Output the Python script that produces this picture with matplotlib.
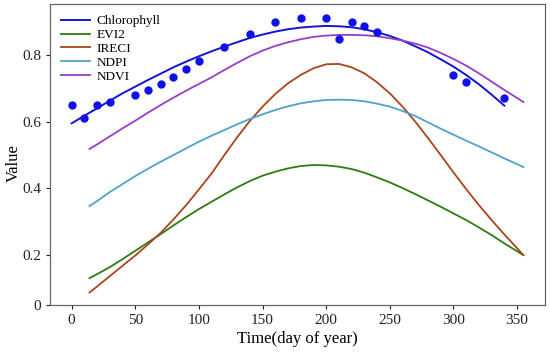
import matplotlib
matplotlib.use("Agg")
import matplotlib.pyplot as plt

# Observed chlorophyll points
chl_days = [0, 10, 20, 30, 50, 60, 70, 80, 90, 100, 120, 140, 160, 180, 200, 210, 220, 230, 240, 300, 310, 340]
chl_obs = [0.65, 0.611, 0.65, 0.659, 0.68, 0.695, 0.713, 0.734, 0.758, 0.782, 0.824, 0.863, 0.899, 0.911, 0.911,
           0.848, 0.899, 0.887, 0.869, 0.74, 0.719, 0.671]

# Chlorophyll fitted curve
chl_fit_days = [0, 10, 20, 30, 40, 50, 60, 70, 80, 90, 100, 110, 120, 130, 140, 150, 160, 170, 180, 190, 200,
                210, 220, 230, 240, 250, 260, 270, 280, 290, 300, 310, 320, 330, 340]
chl_fit = [0.595, 0.618, 0.64, 0.663, 0.685, 0.705, 0.725, 0.744, 0.763, 0.78, 0.796, 0.811, 0.825, 0.838,
           0.851, 0.861, 0.87, 0.877, 0.882, 0.885, 0.887, 0.886, 0.883, 0.877, 0.868, 0.857, 0.843, 0.826,
           0.808, 0.787, 0.765, 0.74, 0.712, 0.681, 0.648]

# Vegetation index curves
vi_days = [14, 20, 30, 40, 50, 60, 70, 80, 90, 100, 110, 120, 130, 140, 150, 160, 170, 180, 190, 200, 210,
           220, 230, 240, 250, 260, 270, 280, 290, 300, 310, 320, 330, 340, 355]
evi2 = [0.131, 0.143, 0.164, 0.188, 0.213, 0.238, 0.263, 0.289, 0.314, 0.338, 0.36, 0.382, 0.403, 0.422, 0.438,
        0.45, 0.46, 0.467, 0.47, 0.469, 0.465, 0.458, 0.447, 0.433, 0.418, 0.401, 0.383, 0.364, 0.345, 0.325,
        0.305, 0.283, 0.26, 0.235, 0.2]
ireci = [0.088, 0.106, 0.137, 0.168, 0.199, 0.232, 0.267, 0.307, 0.35, 0.397, 0.445, 0.5, 0.553, 0.602, 0.645,
         0.683, 0.715, 0.74, 0.76, 0.772, 0.773, 0.763, 0.745, 0.718, 0.685, 0.645, 0.6, 0.551, 0.5, 0.448,
         0.398, 0.35, 0.305, 0.262, 0.2]
ndpi = [0.347, 0.362, 0.389, 0.413, 0.437, 0.459, 0.48, 0.5, 0.52, 0.54, 0.558, 0.575, 0.592, 0.608, 0.622,
        0.635, 0.646, 0.655, 0.661, 0.665, 0.666, 0.665, 0.661, 0.654, 0.645, 0.632, 0.617, 0.598, 0.579,
        0.561, 0.543, 0.526, 0.508, 0.49, 0.464]
ndvi = [0.518, 0.532, 0.556, 0.58, 0.603, 0.627, 0.65, 0.672, 0.693, 0.713, 0.733, 0.755, 0.776, 0.796, 0.813,
        0.827, 0.838, 0.847, 0.854, 0.858, 0.86, 0.86, 0.859, 0.856, 0.85, 0.843, 0.834, 0.822, 0.806, 0.788,
        0.768, 0.745, 0.72, 0.695, 0.659]

xticks = [0, 50, 100, 150, 200, 250, 300, 350]
yticks = [0.05, 0.2, 0.4, 0.6, 0.8]
ytick_labels = ["0", "0.2", "0.4", "0.6", "0.8"]

plt.rcParams['font.family'] = ['Liberation Serif', 'DejaVu Serif']

fig = plt.figure(figsize=(5.5, 3.54), dpi=100)
ax = fig.add_axes([0.091, 0.138, 0.9, 0.851])

ax.plot(chl_fit_days, chl_fit, color='#1414d4', lw=1.4, label='Chlorophyll')
ax.plot(vi_days, evi2, color='#2f7a12', lw=1.3, label='EVI2')
ax.plot(vi_days, ireci, color='#a8451c', lw=1.3, label='IRECI')
ax.plot(vi_days, ndpi, color='#4fa2c8', lw=1.3, label='NDPI')
ax.plot(vi_days, ndvi, color='#9a3cc8', lw=1.3, label='NDVI')
ax.plot(chl_days, chl_obs, 'o', color='#1010e8', ms=5, zorder=5)

ax.set_xlim(-17, 372)
ax.set_ylim(0.05, 0.953)
ax.set_xticks(xticks)
ax.set_yticks(yticks)
ax.set_yticklabels(ytick_labels)
ax.tick_params(direction='out', length=3, labelsize=11, colors='#222222')
for s in ax.spines.values():
    s.set_color('#666666')
    s.set_linewidth(0.9)

ax.set_xlabel('Time(day of year)', fontsize=12, labelpad=3)
ax.set_ylabel('Value', fontsize=12)
ax.yaxis.set_label_coords(-0.058, 0.47)

leg = ax.legend(loc='upper left', frameon=False, fontsize=9.5, handlelength=2.2,
                labelspacing=0.12, borderaxespad=0.45, handletextpad=0.5)

fig.savefig('out.png', dpi=100)
